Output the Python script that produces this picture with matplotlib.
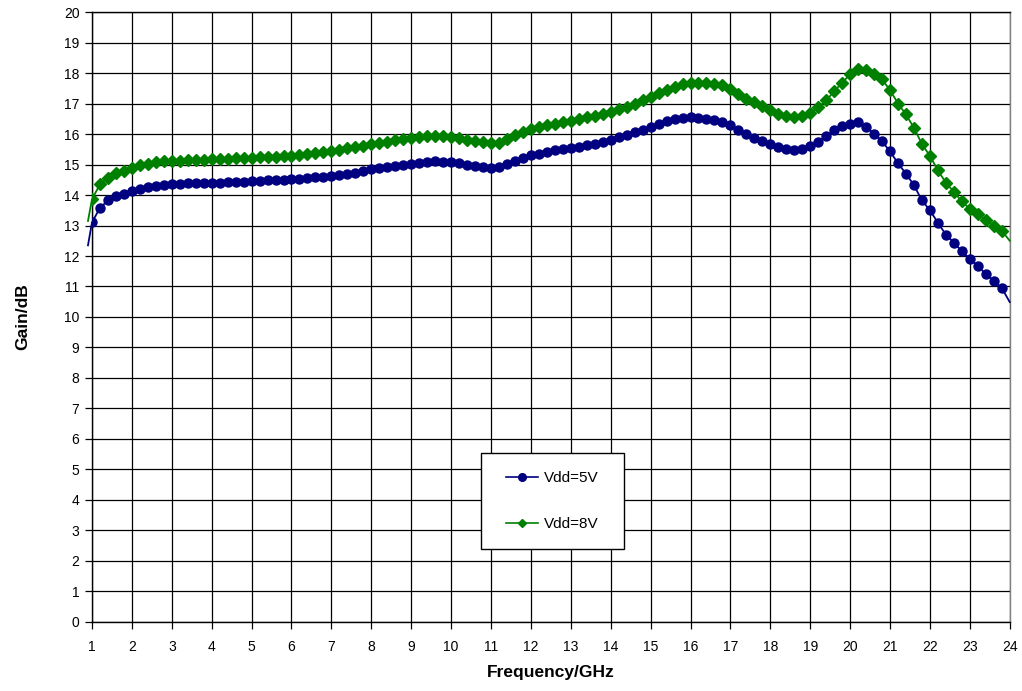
import numpy as np
import matplotlib
matplotlib.use("Agg")
import matplotlib.pyplot as plt
from matplotlib.patches import Rectangle

plt.rcParams['font.family'] = ['Liberation Sans', 'DejaVu Sans']

# Frequency sweep, one sample every 0.2 GHz
freq = np.round(np.arange(1.0, 23.81, 0.2), 1)

gain_5v = [
    13.10, 13.58, 13.82, 13.96, 14.04, 14.13, 14.20, 14.26, 14.29, 14.32,
    14.35, 14.36, 14.38, 14.39, 14.40, 14.40, 14.41, 14.42, 14.43, 14.44,
    14.45, 14.46, 14.48, 14.49, 14.50, 14.51, 14.53, 14.55, 14.58, 14.60,
    14.63, 14.66, 14.69, 14.73, 14.79, 14.84, 14.88, 14.92, 14.96, 14.99,
    15.01, 15.05, 15.08, 15.10, 15.09, 15.07, 15.04, 14.99, 14.95, 14.92,
    14.90, 14.91, 15.02, 15.13, 15.22, 15.30, 15.36, 15.41, 15.46, 15.51,
    15.55, 15.59, 15.64, 15.68, 15.75, 15.82, 15.90, 15.97, 16.05, 16.13,
    16.22, 16.32, 16.42, 16.50, 16.53, 16.57, 16.53, 16.49, 16.45, 16.40,
    16.28, 16.13, 16.00, 15.88, 15.78, 15.67, 15.58, 15.52, 15.48, 15.52,
    15.60, 15.75, 15.95, 16.12, 16.25, 16.34, 16.38, 16.24, 16.00, 15.76,
    15.43, 15.04, 14.70, 14.32, 13.82, 13.50, 13.09, 12.70, 12.44, 12.15,
    11.91, 11.67, 11.41, 11.17, 10.95,
]

gain_8v = [
    13.86, 14.35, 14.57, 14.73, 14.80, 14.89, 14.97, 15.03, 15.07, 15.10,
    15.12, 15.13, 15.14, 15.15, 15.16, 15.17, 15.18, 15.19, 15.20, 15.21,
    15.22, 15.23, 15.25, 15.26, 15.27, 15.28, 15.31, 15.34, 15.37, 15.41,
    15.45, 15.49, 15.53, 15.57, 15.62, 15.67, 15.71, 15.75, 15.79, 15.83,
    15.86, 15.89, 15.92, 15.95, 15.94, 15.91, 15.87, 15.80, 15.76, 15.73,
    15.71, 15.72, 15.84, 15.97, 16.07, 16.15, 16.22, 16.29, 16.34, 16.39,
    16.44, 16.49, 16.55, 16.60, 16.67, 16.73, 16.81, 16.90, 17.00, 17.10,
    17.20, 17.33, 17.45, 17.55, 17.63, 17.68, 17.68, 17.67, 17.65, 17.60,
    17.47, 17.32, 17.15, 17.04, 16.93, 16.79, 16.67, 16.58, 16.55, 16.60,
    16.68, 16.88, 17.10, 17.40, 17.68, 17.96, 18.12, 18.10, 17.98, 17.79,
    17.44, 17.00, 16.64, 16.20, 15.67, 15.28, 14.81, 14.40, 14.10, 13.79,
    13.55, 13.39, 13.19, 13.00, 12.83,
]

# the smoothed trace runs a little past the first and last samples
edge_freq = [0.9, 24.0]
edge_5v = [12.35, 10.49]
edge_8v = [13.15, 12.50]

fig = plt.figure(figsize=(10.22, 6.91), dpi=100)
ax = fig.add_axes([0.090, 0.0999, 0.898, 0.8827])

for g, edge, col, mk, ms, lab in [
    (gain_5v, edge_5v, '#000080', 'o', 6.5, 'Vdd=5V'),
    (gain_8v, edge_8v, '#008000', 'D', 6.0, 'Vdd=8V'),
]:
    xs = np.concatenate([[edge_freq[0]], freq, [edge_freq[1]]])
    ys = np.concatenate([[edge[0]], g, [edge[1]]])
    ax.plot(xs, ys, color=col, lw=1.3, clip_on=False, zorder=3)
    ax.plot(freq, g, ls='none', marker=mk, ms=ms, color=col, zorder=4)
    # legend proxy: line with small marker
    ax.plot([], [], color=col, lw=1.2, marker=mk, ms=5.5 if mk == 'o' else 4.5, label=lab)

ax.set_xlim(1, 24)
ax.set_ylim(0, 20)
ax.set_xticks(range(1, 25))
ax.set_yticks(range(0, 21))
ax.grid(True, color='black', lw=0.9)
ax.set_axisbelow(True)
ax.tick_params(direction='out', length=5, width=0.9, labelsize=10, pad=4)
ax.tick_params(axis='x', pad=8)
for s in ax.spines.values():
    s.set_linewidth(1.0)
ax.spines['right'].set_color('#808080')

ax.set_xlabel('Frequency/GHz', fontsize=12.5, fontweight='bold', labelpad=8)
ax.set_ylabel('Gain/dB', fontsize=12.5, fontweight='bold', labelpad=24)

# legend box drawn separately so its padding can differ per side
box = Rectangle((0.4237, 0.1197), 0.1558, 0.1574, transform=ax.transAxes,
                facecolor='white', edgecolor='black', lw=1.0, zorder=5)
ax.add_patch(box)
leg = ax.legend(loc='center', bbox_to_anchor=(0.5016, 0.1984), fontsize=11,
                frameon=False, handlelength=2.1, labelspacing=2.1,
                borderpad=0, borderaxespad=0, handletextpad=0.35)
leg.set_zorder(6)

fig.savefig('out.png', dpi=100)
